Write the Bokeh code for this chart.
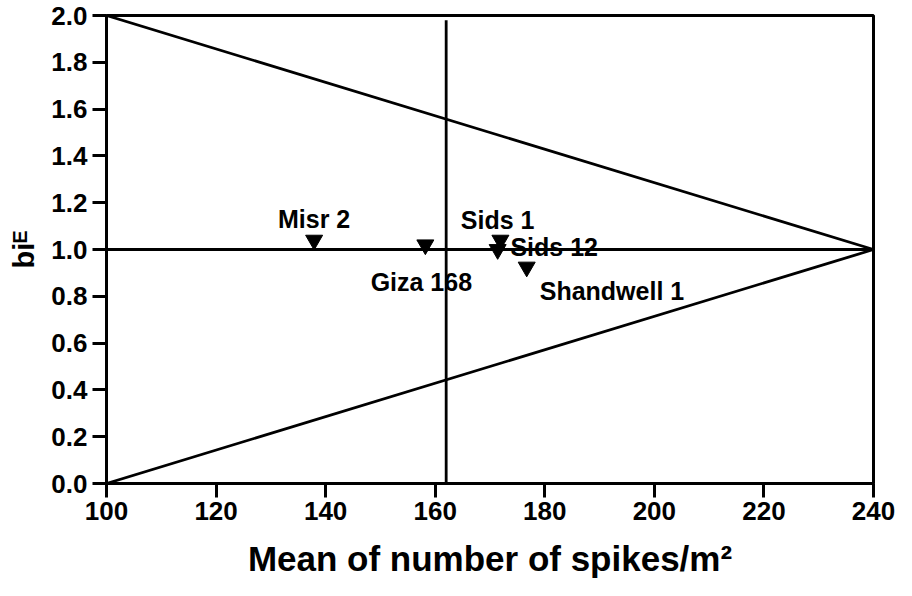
from bokeh.plotting import figure
from bokeh.models import ColumnDataSource, Range1d, FixedTicker
from bokeh.core.properties import value
from bokeh.embed import file_html
from bokeh.resources import INLINE

# Data
genotypes = ["Misr 2", "Giza 168", "Sids 1", "Sids 12", "Shandwell 1"]
mean_spikes = [137.9, 158.2, 171.4, 171.9, 176.7]
bi_values = [1.04, 1.02, 1.00, 1.04, 0.925]

x_min, x_max = 100, 240
grand_mean = 162.0
bi_mean = 1.0
bi_upper = 2.0
bi_lower = 0.0
vline_top = 1.98

x_ticks = [100, 120, 140, 160, 180, 200, 220, 240]
y_ticks = [0.0, 0.2, 0.4, 0.6, 0.8, 1.0, 1.2, 1.4, 1.6, 1.8, 2.0]

# label offsets (screen pixels) and alignment, style only
label_dx = [0, -4, 0, 10, 13]
label_dy = [-21, 37, -30, 7, 24]
label_align = ["center", "center", "center", "left", "left"]

FONT = "Liberation Sans"

p = figure(width=896, height=580, output_backend="svg", toolbar_location=None,
           x_range=Range1d(x_min, x_max), y_range=Range1d(bi_lower, bi_upper),
           min_border_left=106, min_border_right=23, min_border_top=15,
           min_border_bottom=97)
p.background_fill_color = "white"
p.border_fill_color = "white"
p.grid.visible = False
p.outline_line_color = "black"
p.outline_line_width = 3

# reference lines
lw = 2.8
p.line([x_min, x_max], [bi_upper, bi_mean], line_color="black", line_width=lw)
p.line([x_min, x_max], [bi_lower, bi_mean], line_color="black", line_width=lw)
p.line([x_min, x_max], [bi_mean, bi_mean], line_color="black", line_width=lw)
p.line([grand_mean, grand_mean], [bi_lower, vline_top], line_color="black", line_width=lw)

src = ColumnDataSource(dict(x=mean_spikes, y=bi_values, name=genotypes,
                            dx=label_dx, dy=label_dy, align=label_align))
p.scatter("x", "y", source=src, marker="inverted_triangle", size=17,
          fill_color="black", line_color="black")
p.text("x", "y", text="name", source=src, x_offset="dx", y_offset="dy",
       text_align="align", text_baseline="alphabetic",
       text_font=value(FONT), text_font_style="bold", text_font_size="25px",
       text_color="black")

for ax in (p.xaxis[0], p.yaxis[0]):
    ax.axis_line_width = 3
    ax.axis_line_color = "black"
    ax.major_tick_line_width = 3
    ax.major_tick_line_color = "black"
    ax.major_tick_out = 14
    ax.major_tick_in = 0
    ax.minor_tick_line_color = None
    ax.major_label_text_font = FONT
    ax.major_label_text_font_style = "bold"
    ax.major_label_text_color = "black"
    ax.axis_label_text_font = FONT
    ax.axis_label_text_font_style = "bold"
    ax.axis_label_text_color = "black"

p.xaxis.ticker = FixedTicker(ticks=x_ticks)
p.yaxis.ticker = FixedTicker(ticks=y_ticks)
p.yaxis.major_label_overrides = {t: f"{t:.1f}" for t in y_ticks}
p.xaxis.major_label_text_font_size = "26px"
p.yaxis.major_label_text_font_size = "26px"
p.xaxis.major_label_standoff = 4
p.yaxis.major_label_standoff = 5
p.xaxis.axis_label = "Mean of number of spikes/m²"
p.xaxis.axis_label_text_font_size = "35px"
p.xaxis.axis_label_standoff = 16
p.yaxis.axis_label = "biᴱ"
p.yaxis.axis_label_text_font_size = "29px"
p.yaxis.axis_label_standoff = 8

open("out.html", "w").write(file_html(p, INLINE))
